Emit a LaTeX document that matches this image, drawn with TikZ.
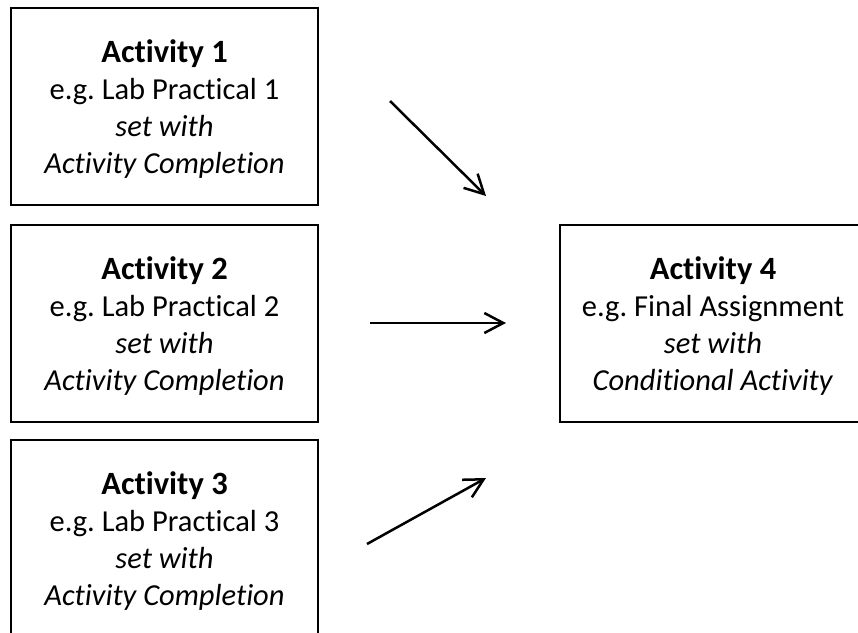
\documentclass[tikz,border=0pt]{standalone}
\usepackage{fontspec}
\setmainfont{Carlito}[Ligatures=NoCommon]
\usetikzlibrary{arrows.meta}
\newcommand{\acttitle}[1]{{\fontsize{32.5}{37}\selectfont\bfseries #1}}
\begin{document}
\frenchspacing
\begin{tikzpicture}[x=1pt,y=-1pt,
  actbox/.style={draw=black,line width=2pt,minimum width=307pt,minimum height=197pt,inner sep=0pt},
  acttext/.style={inner sep=0pt,align=center,font=\fontsize{30.5}{37}\selectfont},
  link/.style={line width=2.5pt,-{Straight Barb[length=19pt,width=20pt,line width=2.5pt]}}]
\useasboundingbox (0,0) rectangle (858,632);
\clip (0,0) rectangle (858,632);
\node[actbox] (a1) at (164.5,106.5) {};
\node[actbox] (a2) at (164.5,323) {};
\node[actbox] (a3) at (164.5,538) {};
\node[actbox] (a4) at (713,323) {};
\node[acttext] (t1) at ([yshift=-3pt]a1.center) {\acttitle{Activity 1}\\e.g. Lab Practical 1\\\textit{set with}\\\textit{Activity Completion}};
\node[acttext] (t2) at ([yshift=-3pt]a2.center) {\acttitle{Activity 2}\\e.g. Lab Practical 2\\\textit{set with}\\\textit{Activity Completion}};
\node[acttext] (t3) at ([yshift=-3pt]a3.center) {\acttitle{Activity 3}\\e.g. Lab Practical 3\\\textit{set with}\\\textit{Activity Completion}};
\node[acttext] (t4) at ([yshift=-3pt]a4.center) {\acttitle{Activity 4}\\e.g. Final Assignment\\\textit{set with}\\\textit{Conditional Activity}};
\coordinate (s1) at (390,101);
\coordinate (e1) at (486,196);
\coordinate (s2) at (370,323);
\coordinate (e2) at (506,323);
\coordinate (s3) at (367,544);
\coordinate (e3) at (486,478);
\draw[link] (s1) -- (e1);
\draw[link] (s2) -- (e2);
\draw[link] (s3) -- (e3);
\end{tikzpicture}
\end{document}
